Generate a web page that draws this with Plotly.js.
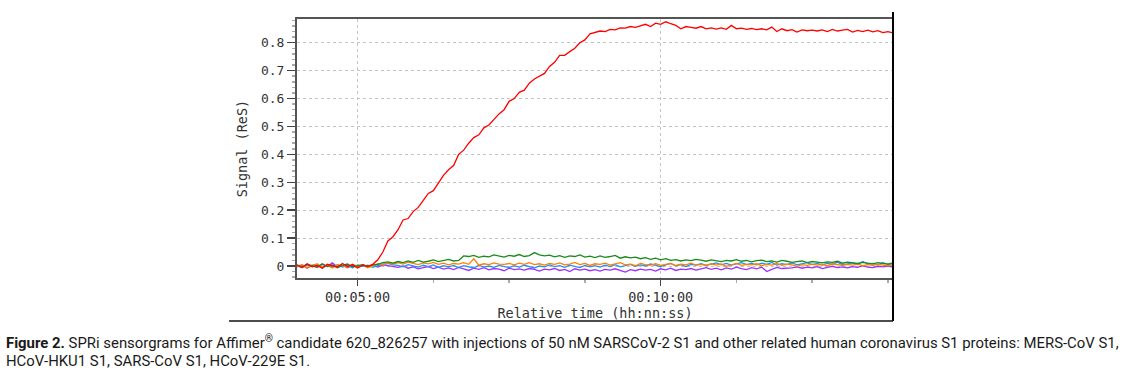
<!DOCTYPE html>
<html><head><meta charset="utf-8">
<script src="https://cdn.plot.ly/plotly-3.0.1.min.js"></script>
<style>html,body{margin:0;padding:0;background:#fff}#chart{width:1128px;height:380px}</style>
</head><body><div id="chart"></div>
<script>
// Relative time in seconds
const timeSec = [
240,245,250,255,260,265,270,275,280,285,
290,295,300,305,310,315,320,325,330,335,
340,345,350,355,360,365,370,375,380,385,
390,395,400,405,410,415,420,425,430,435,
440,445,450,455,460,465,470,475,480,485,
490,495,500,505,510,515,520,525,530,535,
540,545,550,555,560,565,570,575,580,585,
590,595,600,605,610,615,620,625,630,635,
640,645,650,655,660,665,670,675,680,685,
690,695,700,705,710,715,720,725,730,735,
740,745,750,755,760,765,770,775,780,785,
790,795,800,805,810,815,820,825,830];

const sarsCoV2 = [
0.004,-0.006,0.008,-0.003,0.002,-0.008,0.006,0.001,-0.004,0.009,
-0.002,0.005,-0.007,0.003,-0.001,0.006,0.022,0.05,0.09,0.105,
0.13,0.165,0.17,0.195,0.21,0.235,0.26,0.27,0.3,0.325,
0.345,0.36,0.4,0.415,0.44,0.46,0.47,0.495,0.505,0.525,
0.545,0.56,0.59,0.6,0.622,0.63,0.655,0.67,0.68,0.69,
0.715,0.73,0.755,0.755,0.768,0.78,0.8,0.81,0.832,0.838,
0.842,0.84,0.848,0.846,0.853,0.852,0.858,0.855,0.86,0.866,
0.858,0.87,0.866,0.875,0.868,0.862,0.85,0.858,0.855,0.852,
0.858,0.85,0.853,0.849,0.853,0.848,0.862,0.85,0.852,0.848,
0.851,0.847,0.85,0.846,0.856,0.84,0.85,0.843,0.847,0.838,
0.846,0.843,0.845,0.842,0.846,0.84,0.848,0.842,0.845,0.848,
0.838,0.844,0.84,0.845,0.839,0.843,0.836,0.84,0.835];

const mersCoV = [
0.003,-0.004,0.006,0.001,-0.005,0.008,-0.002,0.004,-0.006,0.002,
0.007,-0.003,0.001,0.005,-0.002,0.004,0.006,0.012,0.015,0.01,
0.016,0.012,0.018,0.013,0.02,0.014,0.017,0.022,0.016,0.019,
0.024,0.018,0.02,0.036,0.034,0.038,0.031,0.035,0.033,0.04,
0.036,0.032,0.038,0.035,0.041,0.034,0.037,0.048,0.04,0.036,
0.039,0.033,0.037,0.031,0.036,0.034,0.04,0.032,0.035,0.03,
0.036,0.031,0.034,0.038,0.028,0.033,0.029,0.032,0.026,0.03,
0.024,0.028,0.022,0.026,0.02,0.023,0.018,0.022,0.019,0.024,
0.021,0.017,0.022,0.019,0.016,0.02,0.018,0.023,0.017,0.02,
0.015,0.019,0.021,0.016,0.018,0.014,0.02,0.017,0.013,0.016,
0.018,0.012,0.016,0.014,0.011,0.015,0.013,0.017,0.01,0.014,
0.012,0.009,0.013,0.011,0.008,0.012,0.01,0.007,0.011];

const hcovHKU1 = [
-0.002,0.005,-0.006,0.003,0.007,-0.004,0.002,-0.007,0.004,0.001,
-0.005,0.006,-0.001,0.003,-0.006,0.002,0.008,0.004,0.011,0.006,
0.012,0.007,0.014,0.009,0.005,0.011,0.008,0.013,0.006,0.01,
0.004,0.009,0.007,0.012,0.006,0.026,0.003,0.008,0.005,0.011,
0.007,0.006,0.009,0.004,0.01,0.006,0.012,0.005,0.008,0.003,
0.009,0.006,0.011,0.004,0.007,0.013,0.005,0.009,0.002,0.008,
0.006,0.01,0.003,0.008,0.012,0.004,0.007,0.001,0.009,0.005,
0.003,0.008,0.002,0.006,0.009,0.001,0.007,0.004,0.01,0.003,
0.006,0.002,0.008,0.003,0.007,-0.001,0.005,0.009,0.002,0.006,
0.004,0.008,0.001,0.006,0.003,0.009,0.002,0.007,0.004,-0.001,
0.005,0.002,0.007,0.003,0.006,0.001,0.008,0.004,0.002,0.006,
0.003,0.007,0.001,0.005,0.002,0.006,0.003,0.001,0.004];

const sarsCoV = [
0.001,-0.005,0.004,-0.002,0.006,-0.007,0.003,-0.003,0.005,-0.004,
0.002,-0.006,0.004,-0.001,0.003,-0.005,0.001,0.007,0.009,0.004,
0.002,-0.003,0.005,0.0,-0.004,0.003,-0.002,0.004,-0.005,0.001,
-0.003,0.002,-0.006,0.001,-0.002,-0.007,0.003,-0.004,0.0,-0.005,
0.002,-0.003,-0.006,0.001,-0.004,0.003,-0.002,-0.007,0.0,-0.003,
0.004,-0.002,0.001,-0.005,0.003,-0.001,-0.006,0.002,-0.003,0.001,
-0.004,0.003,-0.002,0.005,-0.003,0.001,0.006,-0.001,0.004,0.0,
0.007,0.002,-0.002,0.004,0.009,0.001,0.005,-0.002,0.006,0.003,
0.008,0.002,0.006,0.011,0.004,0.009,0.003,0.007,0.012,0.005,
0.009,0.004,0.01,0.006,0.013,0.003,0.008,0.005,0.011,0.004,
0.007,0.012,0.005,0.009,0.003,0.01,0.006,0.014,0.004,0.008,
0.011,0.005,0.016,0.007,0.009,0.004,0.012,0.006,0.008];

const hcov229E = [
-0.003,0.004,-0.008,0.002,-0.005,0.006,-0.002,0.011,-0.004,0.003,
-0.006,0.002,-0.003,0.005,-0.001,0.003,-0.004,0.004,0.001,-0.002,
-0.005,0.0,-0.008,-0.003,-0.01,-0.006,-0.002,-0.009,-0.004,-0.011,
-0.007,-0.013,-0.005,-0.01,-0.016,-0.008,-0.012,-0.006,-0.014,-0.009,
-0.011,-0.017,-0.008,-0.013,-0.01,-0.015,-0.009,-0.012,-0.018,-0.011,
-0.014,-0.009,-0.016,-0.012,-0.02,-0.01,-0.015,-0.011,-0.017,-0.013,
-0.018,-0.012,-0.015,-0.01,-0.016,-0.022,-0.013,-0.017,-0.011,-0.015,
-0.012,-0.018,-0.01,-0.014,-0.008,-0.016,-0.011,-0.013,-0.009,-0.015,
-0.01,-0.006,-0.012,-0.008,-0.014,-0.007,-0.011,-0.004,-0.009,-0.013,
-0.006,-0.01,-0.004,-0.02,-0.012,-0.005,-0.009,-0.008,-0.007,-0.003,
-0.008,-0.004,-0.007,-0.002,-0.009,-0.005,-0.001,-0.006,-0.003,-0.007,
-0.002,-0.005,0.001,-0.004,-0.006,-0.001,-0.003,0.0,-0.004];

const xTickVals = [300, 600];
const xTickText = ['00:05:00', '00:10:00'];

const series = [
  {name: 'HCoV-229E S1', y: hcov229E, color: '#9b30ff'},
  {name: 'SARS-CoV S1', y: sarsCoV, color: '#1e90ff'},
  {name: 'HCoV-HKU1 S1', y: hcovHKU1, color: '#ff8000'},
  {name: 'MERS-CoV S1', y: mersCoV, color: '#1a8a1a'},
  {name: 'SARS-CoV-2 S1', y: sarsCoV2, color: '#ff0000'}
];

const traces = series.map(s => ({
  type: 'scatter', mode: 'lines', x: timeSec, y: s.y, name: s.name,
  line: {color: s.color, width: 1.3}, hoverinfo: 'skip'
}));

const axisFont = {family: 'DejaVu Sans Mono, monospace', size: 13.5, color: '#333'};

const layout = {
  width: 1128, height: 380,
  margin: {l: 297, r: 235, t: 19, b: 102},
  paper_bgcolor: '#fff', plot_bgcolor: '#fff',
  showlegend: false,
  xaxis: {
    range: [240, 830], tickmode: 'array', tickvals: xTickVals, ticktext: xTickText,
    ticks: 'outside', ticklen: 6, tickwidth: 1.5, tickcolor: '#444',
    tickfont: axisFont, ticklabelstandoff: 0,
    showline: true, linecolor: '#555', linewidth: 2, mirror: true,
    showgrid: true, gridcolor: '#c4c4c4', griddash: 'dot', gridwidth: 1,
    zeroline: false,
    minor: {dtick: 75, tick0: 0, ticks: 'outside', ticklen: 3, tickcolor: '#aaa', showgrid: false},
    title: {text: 'Relative time (hh:nn:ss)', font: axisFont, standoff: 0}
  },
  yaxis: {
    range: [-0.043, 0.885], tickmode: 'linear', tick0: 0, dtick: 0.1,
    ticks: 'outside', ticklen: 8, tickwidth: 1.5, tickcolor: '#444',
    tickfont: {family: 'DejaVu Sans Mono, monospace', size: 13, color: '#333'},
    showline: true, linecolor: '#555', linewidth: 2,
    showgrid: true, gridcolor: '#c4c4c4', griddash: 'dot', gridwidth: 1,
    zeroline: false,
    minor: {dtick: 0.02, tick0: 0, ticks: 'outside', ticklen: 3, tickcolor: '#aaa', showgrid: false},
    title: {text: 'Signal (ReS)', font: axisFont, standoff: 10}
  },
  shapes: [
    {type: 'line', xref: 'paper', yref: 'paper', x0: 1.0, x1: 1.0, y0: 1.027, y1: -0.166,
     line: {color: '#000', width: 2}},
    {type: 'line', xref: 'paper', yref: 'paper', x0: -0.114, x1: 1.0, y0: -0.166, y1: -0.166,
     line: {color: '#111', width: 1.5}}
  ],
  annotations: [
    {xref: 'paper', yref: 'paper', x: -0.4916, y: -0.247, xanchor: 'left', yanchor: 'middle',
     showarrow: false, align: 'left',
     font: {family: 'Roboto, sans-serif', size: 14.9, color: '#1a1a1a'},
     text: '<b>Figure 2.</b> SPRi sensorgrams for Affimer<sup>®</sup> candidate 620_826257 with injections of 50 nM SARSCoV-2 S1 and other related human coronavirus S1 proteins: MERS-CoV S1,'},
    {xref: 'paper', yref: 'paper', x: -0.4916, y: -0.3205, xanchor: 'left', yanchor: 'middle',
     showarrow: false, align: 'left',
     font: {family: 'Roboto, sans-serif', size: 14.9, color: '#1a1a1a'},
     text: 'HCoV-HKU1 S1, SARS-CoV S1, HCoV-229E S1.'}
  ]
};

Plotly.newPlot('chart', traces, layout, {staticPlot: true, displayModeBar: false});
</script></body></html>
